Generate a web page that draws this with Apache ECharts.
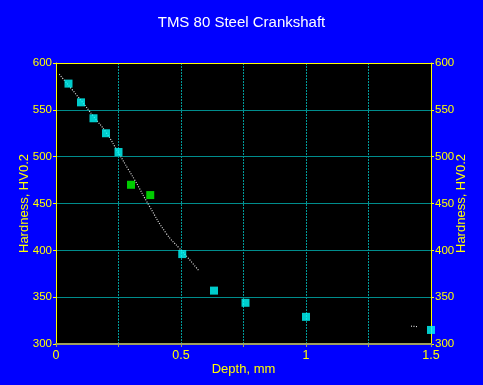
<!DOCTYPE html>
<html><head><meta charset="utf-8">
<script src="https://cdn.jsdelivr.net/npm/echarts@6/dist/echarts.min.js"></script>
<style>html,body{margin:0;padding:0;background:#0000ff;}#c{width:483px;height:385px;}</style>
</head><body><div id="c"></div>
<script>
const cyanPoints = [[0.05,578],[0.10,558],[0.15,541],[0.20,525],[0.25,505],[0.505,396],[0.632,357],[0.758,344],[1.0,329],[1.5,315]];
const greenPoints = [[0.30,470],[0.377,459]];
const fitCurve = [[0.013,588],[0.10,560],[0.15,543],[0.20,526],[0.25,504],[0.29,486],[0.315,475],[0.374,447],[0.441,418],[0.494,402],[0.528,392],[0.572,378]];
const fitTail = [[1.42,319],[1.45,318.5]];
const xTickLabels = {0:'0',0.5:'0.5',1:'1',1.5:'1.5'};
const yMin = 300, yMax = 600, yStep = 50;

const chart = echarts.init(document.getElementById('c'));
const font = 'Liberation Sans, Arial, sans-serif';
const yAxisBase = {
  type:'value', min:yMin, max:yMax, interval:yStep,
  nameLocation:'middle', name:'Hardness, HV0.2', nameMoveOverlap:false,
  nameTextStyle:{color:'#ffff00', fontSize:13, fontFamily:font},
  axisLine:{show:true, lineStyle:{color:'#ffff00', width:1}},
  axisTick:{show:true, length:3, lineStyle:{color:'#ffff00'}},
  axisLabel:{color:'#ffff00', fontSize:11.5, fontFamily:font, margin:4},
};
chart.setOption({
  backgroundColor:'#0000ff',
  animation:false,
  title:{text:'TMS 80 Steel Crankshaft', left:'center', top:10, textStyle:{color:'#ffffff', fontSize:15, fontWeight:'normal', fontFamily:font}},
  grid:{left:56, right:52, top:63, bottom:41, show:true, backgroundColor:'#000000', borderWidth:0, outerBoundsMode:'none', containLabel:false},
  xAxis:{type:'value', min:0, max:1.5, interval:0.25,
    name:'Depth, mm', nameLocation:'middle', nameGap:19, nameMoveOverlap:false,
    nameTextStyle:{color:'#ffff00', fontSize:13, fontFamily:font},
    axisLine:{show:true, onZero:false, lineStyle:{color:'#a0a060', width:2}},
    axisTick:{show:true, length:3, lineStyle:{color:'#a0a060'}},
    axisLabel:{color:'#ffff00', fontSize:12.5, fontFamily:font, margin:5,
      formatter:v=>{const k=Math.round(v*100)/100; return xTickLabels[k]!==undefined?xTickLabels[k]:'';}},
    splitLine:{show:true, lineStyle:{color:'#009a9a', type:[2,1], width:1}}
  },
  yAxis:[
    Object.assign({}, yAxisBase, {position:'left', nameGap:25,
      splitLine:{show:true, lineStyle:{color:'#008c8c', width:1}}}),
    Object.assign({}, yAxisBase, {position:'right', nameGap:24, nameRotate:90,
      splitLine:{show:false}})
  ],
  series:[
    {type:'line', data:fitCurve, symbol:'none', smooth:true, lineStyle:{color:'#e0e0e0', width:1.2, type:[1,1.5]}, z:3},
    {type:'line', data:fitTail, symbol:'none', lineStyle:{color:'#e0e0e0', width:1.2, type:[1,1.5]}, z:3},
    {type:'scatter', data:cyanPoints, symbol:'rect', symbolSize:8, itemStyle:{color:'#00ffff'}, z:4},
    {type:'scatter', data:greenPoints, symbol:'rect', symbolSize:8, itemStyle:{color:'#00ff00'}, z:4},
    {type:'line', yAxisIndex:1, data:[], symbol:'none'}
  ],
  graphic:[{type:'line', shape:{x1:56, y1:63.5, x2:431, y2:63.5}, style:{stroke:'#ffff00', lineWidth:1}, z:10}]
});
</script></body></html>
